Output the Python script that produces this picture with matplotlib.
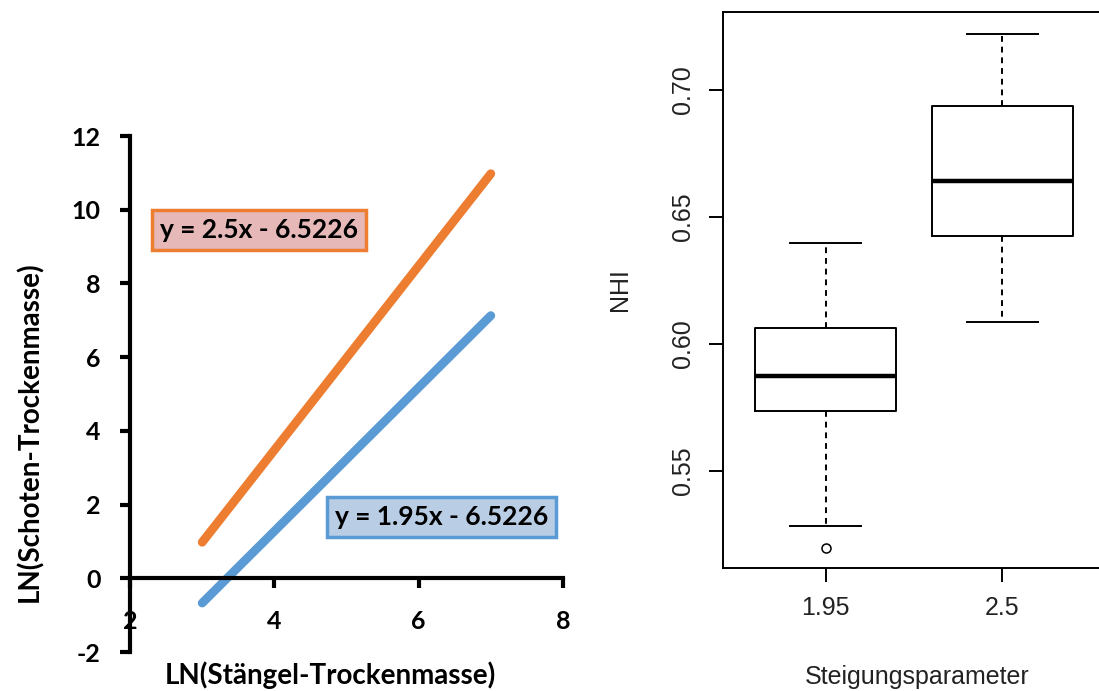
import matplotlib.pyplot as plt
import numpy as np

# Left panel: log-log regression lines
slopes = [2.5, 1.95]
intercept = -6.5226
x_range = [3, 7]
line_colors = ['#ED7D31', '#5B9BD5']
box_fills = ['#E6B9B8', '#B9CDE5']
eq_labels = ['y = 2.5x - 6.5226', 'y = 1.95x - 6.5226']

x_ticks = [2, 4, 6, 8]
y_ticks = [-2, 0, 2, 4, 6, 8, 10, 12]

# Right panel: NHI boxplots by slope parameter
groups = ['1.95', '2.5']
whislo = [0.5283, 0.6087]
q1 = [0.5736, 0.6425]
med = [0.5874, 0.6642]
q3 = [0.6063, 0.6937]
whishi = [0.6398, 0.7220]
fliers = [[0.5197], []]
nhi_ticks = [0.55, 0.60, 0.65, 0.70]

W, H = 1099, 691
fig = plt.figure(figsize=(W / 100, H / 100), dpi=100)

# ---------------- left chart ----------------
bold = dict(family=['Lato', 'DejaVu Sans'], weight='bold')
ax = fig.add_axes([130 / W, 1 - 652 / H, 433 / W, 516 / H])
xs = np.array(x_range, dtype=float)
for s, c in zip(slopes, line_colors):
    ax.plot(xs, s * xs + intercept, color=c, lw=6.3, solid_capstyle='round')

ax.set_xlim(2, 8)
ax.set_ylim(-2, 12)
ax.spines['top'].set_visible(False)
ax.spines['right'].set_visible(False)
ax.spines['bottom'].set_position(('data', 0))
for sp in ('left', 'bottom'):
    ax.spines[sp].set_linewidth(3)
ax.set_xticks(x_ticks)
ax.set_yticks(y_ticks)
ax.tick_params(direction='out', length=7, width=3)
ax.set_xticklabels([str(t) for t in x_ticks], fontsize=18, **bold)
ax.set_yticklabels([str(t) for t in y_ticks], fontsize=18, **bold)
ax.xaxis.set_tick_params(pad=16)
ax.yaxis.set_tick_params(pad=14)

fig.text(30 / W, 1 - 432 / H, 'LN(Schoten-Trockenmasse)', rotation=90,
         ha='center', va='center', fontsize=20, **bold)
fig.text(330 / W, 1 - 675 / H, 'LN(Stängel-Trockenmasse)',
         ha='center', va='center', fontsize=20, **bold)

# equation labels
label_pos = [(2.42, 9.45), (4.84, 1.66)]
for (lx, ly), txt, c, f in zip(label_pos, eq_labels, line_colors, box_fills):
    ax.text(lx, ly, txt, fontsize=19, ha='left', va='center', color='black',
            bbox=dict(boxstyle='square,pad=0.3', fc=f, ec=c, lw=2.5), **bold)

# ---------------- right chart ----------------
reg = dict(family=['Liberation Sans', 'DejaVu Sans'])
txtc = '#222222'
bx = fig.add_axes([723 / W, 1 - 568 / H, 382 / W, 556 / H])
stats = []
for i in range(len(groups)):
    stats.append(dict(label=groups[i], whislo=whislo[i], q1=q1[i], med=med[i],
                      q3=q3[i], whishi=whishi[i], fliers=fliers[i]))
bx.bxp(stats, positions=[1, 2], widths=0.8, patch_artist=False,
       boxprops=dict(color='black', lw=1.4),
       whiskerprops=dict(color='black', lw=1.4, linestyle=(0, (3, 2.5))),
       capprops=dict(color='black', lw=1.4),
       medianprops=dict(color='black', lw=3.2),
       flierprops=dict(marker='o', markerfacecolor='none', markeredgecolor='black',
                       markersize=6.5, markeredgewidth=1.1),
       capwidths=0.4)
bx.set_xlim(0.42, 2.58)
bx.set_ylim(0.5118, 0.7307)
for sp in bx.spines.values():
    sp.set_linewidth(1.4)
bx.set_yticks(nhi_ticks)
bx.set_yticklabels(['%.2f' % t for t in nhi_ticks], rotation=90, va='center',
                   fontsize=18, color=txtc, **reg)
bx.set_xticks([1, 2])
bx.set_xticklabels(groups, fontsize=18, color=txtc, **reg)
bx.tick_params(axis='both', length=10, width=1.4, pad=10)
fig.text(620 / W, 1 - 290 / H, 'NHI', rotation=90, ha='center', va='center',
         fontsize=18, color=txtc, **reg)
fig.text(917 / W, 1 - 677 / H, 'Steigungsparameter', ha='center', va='center',
         fontsize=18, color=txtc, **reg)

fig.savefig('out.png', dpi=100)
